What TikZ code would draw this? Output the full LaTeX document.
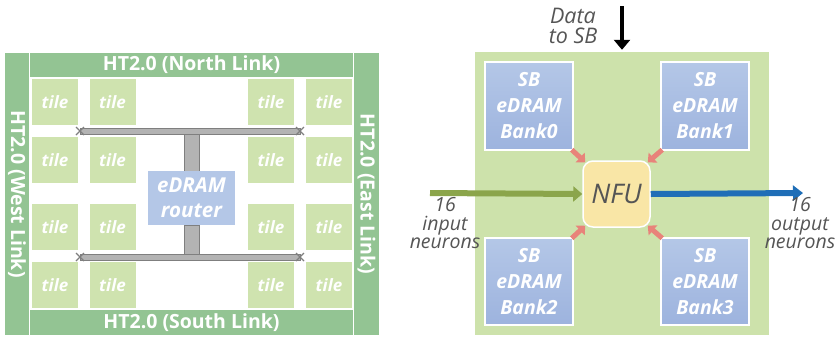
\documentclass[tikz,border=0pt]{standalone}
\usepackage{fontspec}
\setmainfont{Open Sans}
\usetikzlibrary{arrows.meta}
\definecolor{linkgreen}{HTML}{93C493}
\definecolor{tilegreen}{HTML}{CFE3AF}
\definecolor{bggreen}{HTML}{CDE2AB}
\definecolor{routerblue}{HTML}{B4C7E7}
\definecolor{banktop}{HTML}{B4C7E7}
\definecolor{bankbot}{HTML}{9DB3DE}
\definecolor{nfuyellow}{HTML}{F9E6A6}
\definecolor{salmon}{HTML}{E8837A}
\definecolor{olivegreen}{HTML}{8BA54B}
\definecolor{arrowblue}{HTML}{1F6EB7}
\definecolor{txtgray}{HTML}{555555}
\definecolor{bargray}{HTML}{B3B3B3}
\definecolor{bardark}{HTML}{7F7F7F}
\begin{document}
\begin{tikzpicture}[x=1pt,y=-1pt,
  linkbox/.style={fill=linkgreen, draw=none, text=white, font=\fontsize{19.5}{21}\selectfont\bfseries, inner sep=0pt},
  tilebox/.style={fill=tilegreen, draw=none, minimum width=46pt, minimum height=46pt, text=white, font=\fontsize{17}{19}\selectfont\bfseries\itshape, inner sep=0pt},
  routerbox/.style={fill=routerblue, draw=none, minimum width=87pt, minimum height=54pt, text=white, align=center, font=\fontsize{20.5}{25}\selectfont\bfseries\itshape, inner sep=0pt},
  bankbox/.style={top color=banktop, bottom color=bankbot, draw=white, line width=1.5pt, minimum width=88pt, minimum height=88pt, text=white, align=center, font=\fontsize{19.5}{26}\selectfont\bfseries\itshape, inner sep=0pt},
  nfubox/.style={fill=nfuyellow, draw=white, line width=1.5pt, rounded corners=10pt, minimum width=67pt, minimum height=66pt, text=txtgray, font=\fontsize{27}{29}\selectfont\itshape, inner sep=0pt},
  lbl/.style={text=txtgray, align=center, font=\fontsize{19.5}{18.5}\selectfont\itshape, inner sep=0pt},
  sarrow/.style={draw=salmon, line width=5pt, -{Triangle[length=7pt,width=13pt]}},
  bar/.style={fill=bargray, draw=bardark, line width=0.6pt},
  xmark/.style={draw=bardark, line width=1.2pt}
]
\useasboundingbox (0,0) rectangle (838,338);

% ---------- left: chip ----------
\node[linkbox, minimum width=323pt, minimum height=24pt] (north) at (191.5,65) {HT2.0 (North Link)};
\node[linkbox, minimum width=323pt, minimum height=25pt] (south) at (191.5,322.5) {HT2.0 (South Link)};
\node[linkbox, minimum width=282pt, minimum height=24pt, rotate=-90] (west) at (17,194) {HT2.0 (West Link)};
\node[linkbox, minimum width=282pt, minimum height=25pt, rotate=-90] (east) at (366.5,194) {HT2.0 (East Link)};

\foreach \cx [count=\i] in {55,112.5,271,329}{
  \foreach \cy [count=\j] in {102,160,227,285}{
    \node[tilebox] (t\i\j) at (\cx,\cy) {tile};
  }
}

% gray bus bars
\fill[bar] (184,131) rectangle (199,171);
\fill[bar] (184,225) rectangle (199,257);
\draw[bar] (80,128) rectangle (300,134);
\draw[bar] (80,254) rectangle (300,260);
\foreach \bx in {80,300}{
  \foreach \by in {131,257}{
    \draw[xmark] (\bx-4,\by-4) -- (\bx+4,\by+4);
    \draw[xmark] (\bx-4,\by+4) -- (\bx+4,\by-4);
  }
}
\node[routerbox] (router) at (191.5,198) {eDRAM\\router};

% ---------- right: NFU tile ----------
\node[fill=bggreen, draw=none, minimum width=294pt, minimum height=283pt, inner sep=0pt] (bg) at (622,193.5) {};
\node[bankbox] (b0) at (529,106) {SB\\eDRAM\\Bank0};
\node[bankbox] (b1) at (705,106) {SB\\eDRAM\\Bank1};
\node[bankbox, minimum height=87pt] (b2) at (529,281.5) {SB\\eDRAM\\Bank2};
\node[bankbox, minimum height=87pt] (b3) at (705,281.5) {SB\\eDRAM\\Bank3};
\node[nfubox] (nfu) at (616.5,194) {NFU};

\draw[sarrow] ([xshift=-2pt,yshift=1pt]b0.south east) -- ([xshift=3pt,yshift=-2pt]nfu.north west);
\draw[sarrow] ([xshift=2pt,yshift=1pt]b1.south west) -- ([xshift=-3pt,yshift=-2pt]nfu.north east);
\draw[sarrow] ([xshift=-2pt,yshift=-1pt]b2.north east) -- ([xshift=3pt,yshift=2pt]nfu.south west);
\draw[sarrow] ([xshift=2pt,yshift=-1pt]b3.north west) -- ([xshift=-3pt,yshift=2pt]nfu.south east);

\coordinate (inS) at (430,193);
\coordinate (outE) at (803,193);
\coordinate (dTop) at (622,6);
\draw[olivegreen, line width=6pt, -{Triangle[length=9pt,width=15pt]}] (inS) -- (nfu.west);
\draw[arrowblue, line width=6pt, -{Triangle[length=10pt,width=15pt]}] (nfu.east) -- (outE);
\draw[black, line width=4.5pt, -{Triangle[length=10pt,width=16pt]}] (dTop) -- ([yshift=2pt]bg.north);

\node[lbl, font=\fontsize{21.5}{19.5}\selectfont\itshape] (data) at (573,26) {Data\\to SB};
\node[lbl] (inlbl) at (445,223.5) {16\\input\\neurons};
\node[lbl] (outlbl) at (800,223.5) {16\\output\\neurons};
\end{tikzpicture}
\end{document}
